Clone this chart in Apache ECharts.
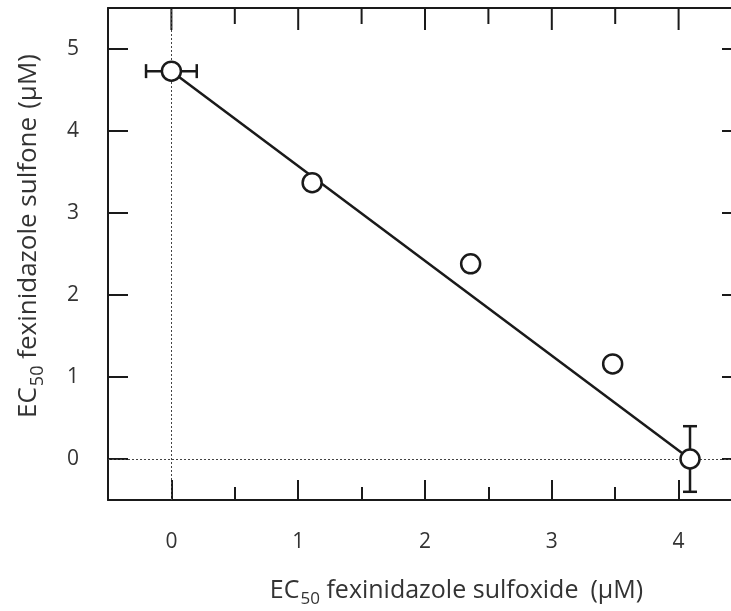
<!DOCTYPE html>
<html>
<head>
<meta charset="utf-8">
<script src="https://cdn.jsdelivr.net/npm/echarts@6/dist/echarts.min.js"></script>
<style>
  html, body { margin: 0; padding: 0; background: #fff; }
  #chart { width: 731px; height: 611px; }
</style>
</head>
<body>
<div id="chart"></div>
<script>
// EC50 values
const sulfoxide = [0, 1.11, 2.36, 3.48, 4.09]   // x, µM
const sulfone = [4.73, 3.37, 2.38, 1.16, 0]     // y, µM
const sulfoxideErr = [0.2, 0, 0, 0, 0]
const sulfoneErr = [0, 0, 0, 0, 0.4]
// fitted line end points
const fitX = [0, 4.09]
const fitY = [4.73, 0]
// axis ranges of the frame, and of the labelled (major) ticks
const xRange = [-0.5, 4.5]
const yRange = [-0.5, 5.5]
const xMajor = [0, 4]
const yMajor = [0, 5]
// tick marks along the top edge of the frame
const xTopTicks = [0, 0.5, 1, 1.5, 2, 2.5, 3, 3.5, 4]

const ink = '#1a1a1a'
const textColor = '#333'
const font = 'Open Sans'

// frame in px (right edge runs past the canvas, as in the figure)
const frame = { left: 108, top: 8, width: 634, height: 492 }
const W = 731
const H = 611
const pxX = frame.width / (xRange[1] - xRange[0])
const pxY = frame.height / (yRange[1] - yRange[0])
// the major tick grid only covers 0..4 / 0..5 so its ticks start at a labelled value
const offX = (xMajor[0] - xRange[0]) * pxX
const offY = (yRange[1] - yMajor[1]) * pxY
const offBottom = (yMajor[0] - yRange[0]) * pxY
const majorLeft = frame.left + offX
const majorRight = W - (majorLeft + (xMajor[1] - xMajor[0]) * pxX)
const frameRight = W - frame.left - frame.width

const chart = echarts.init(document.getElementById('chart'))

function axisOf (opts) {
  return Object.assign({
    type: 'value',
    splitLine: { show: false },
    axisLine: { show: false, onZero: false },
    axisTick: { show: false },
    axisLabel: { show: false }
  }, opts)
}
const frameLine = { show: true, onZero: false, lineStyle: { color: ink, width: 2 } }
const tick = len => ({ show: true, inside: true, length: len, lineStyle: { color: ink, width: 2 } })
const tickLabel = margin => ({ show: true, margin: margin, fontFamily: font, fontSize: 21, color: textColor })

const richX = {
  a: { fontFamily: font, fontSize: 25, color: textColor },
  s: { fontFamily: font, fontSize: 17, color: textColor, padding: [17, 0, 0, 1] },
  g: { width: 12 }
}
const richY = {
  a: { fontFamily: font, fontSize: 26, color: textColor },
  s: { fontFamily: font, fontSize: 18, color: textColor, padding: [18, 0, 0, 1] },
  g: { width: 8 }
}

const errData = sulfoxide.map((x, i) => [x, sulfone[i], sulfoxideErr[i], sulfoneErr[i]])

chart.setOption({
  animation: false,
  backgroundColor: '#fff',
  grid: [
    // 0: data frame
    { left: frame.left, top: frame.top, right: frameRight, bottom: H - frame.top - frame.height, outerBoundsMode: 'none' },
    // 1: major ticks 0..4 / 0..5
    { left: majorLeft, right: majorRight, top: frame.top + offY, bottom: H - (frame.top + offY + (yMajor[1] - yMajor[0]) * pxY), outerBoundsMode: 'none' }
  ],
  xAxis: [
    axisOf({
      gridIndex: 0, position: 'bottom', min: xRange[0], max: xRange[1], interval: 0.5,
      axisLine: frameLine, axisTick: tick(13),
      name: '{a|EC}{s|50}{a| fexinidazole sulfoxide}{g|}{a|(μM)}',
      nameLocation: 'middle',
      nameGap: 74,
      nameTextStyle: { rich: richX, padding: [0, 0, 0, 63] }
    }),
    axisOf({ gridIndex: 0, position: 'top', min: xRange[0], max: xRange[1], axisLine: frameLine }),
    axisOf({ gridIndex: 1, position: 'bottom', offset: offBottom, min: xMajor[0], max: xMajor[1], interval: 1, axisTick: tick(20), axisLabel: tickLabel(32) })
  ],
  yAxis: [
    axisOf({
      gridIndex: 0, position: 'left', min: yRange[0], max: yRange[1],
      axisLine: frameLine,
      name: '{a|EC}{s|50}{a| fexinidazole sulfone}{g|}{a|(μM)}',
      nameLocation: 'middle',
      nameGap: 61,
      nameTextStyle: { rich: richY, padding: [0, 0, 0, 36] }
    }),
    axisOf({ gridIndex: 0, position: 'right', min: yRange[0], max: yRange[1], axisLine: frameLine }),
    axisOf({ gridIndex: 1, position: 'left', offset: offX, min: yMajor[0], max: yMajor[1], interval: 1, axisTick: tick(20), axisLabel: tickLabel(29) }),
    axisOf({ gridIndex: 1, position: 'right', offset: offX, min: yMajor[0], max: yMajor[1], interval: 1, axisTick: tick(20) })
  ],
  series: [
    {
      // dotted zero lines
      type: 'line',
      data: [],
      markLine: {
        silent: true,
        symbol: 'none',
        label: { show: false },
        lineStyle: { type: [2, 2], color: '#444', width: 1 },
        data: [{ xAxis: 0 }, { yAxis: 0 }]
      }
    },
    {
      // tick marks hanging from the top edge
      name: 'topTicks',
      type: 'custom',
      silent: true,
      data: xTopTicks.map(v => [v, yRange[1]]),
      z: 2,
      renderItem: (params, api) => {
        const v = api.value(0)
        const p = api.coord([v, api.value(1)])
        const len = Number.isInteger(v) ? 22 : 16
        return {
          type: 'line',
          shape: { x1: p[0], y1: p[1], x2: p[0], y2: p[1] + len },
          style: { stroke: ink, lineWidth: 2 }
        }
      }
    },
    {
      name: 'fit',
      type: 'line',
      data: fitX.map((x, i) => [x, fitY[i]]),
      showSymbol: false,
      lineStyle: { color: ink, width: 2.5 },
      z: 3
    },
    {
      name: 'error',
      type: 'custom',
      data: errData,
      z: 4,
      renderItem: (params, api) => {
        const x = api.value(0)
        const y = api.value(1)
        const ex = api.value(2)
        const ey = api.value(3)
        const cap = 7
        const style = { stroke: ink, lineWidth: 2.5 }
        const children = []
        if (ex > 0) {
          const l = api.coord([x - ex, y])
          const r = api.coord([x + ex, y])
          children.push({ type: 'line', shape: { x1: l[0], y1: l[1], x2: r[0], y2: r[1] }, style })
          children.push({ type: 'line', shape: { x1: l[0], y1: l[1] - cap, x2: l[0], y2: l[1] + cap }, style })
          children.push({ type: 'line', shape: { x1: r[0], y1: r[1] - cap, x2: r[0], y2: r[1] + cap }, style })
        }
        if (ey > 0) {
          const t = api.coord([x, y + ey])
          const b = api.coord([x, y - ey])
          children.push({ type: 'line', shape: { x1: t[0], y1: t[1], x2: b[0], y2: b[1] }, style })
          children.push({ type: 'line', shape: { x1: t[0] - cap, y1: t[1], x2: t[0] + cap, y2: t[1] }, style })
          children.push({ type: 'line', shape: { x1: b[0] - cap, y1: b[1], x2: b[0] + cap, y2: b[1] }, style })
        }
        return { type: 'group', children }
      }
    },
    {
      name: 'points',
      type: 'scatter',
      data: sulfoxide.map((x, i) => [x, sulfone[i]]),
      symbol: 'circle',
      symbolSize: 19,
      itemStyle: { color: '#fff', borderColor: ink, borderWidth: 2.5, opacity: 1 },
      z: 5
    }
  ]
})
</script>
</body>
</html>
